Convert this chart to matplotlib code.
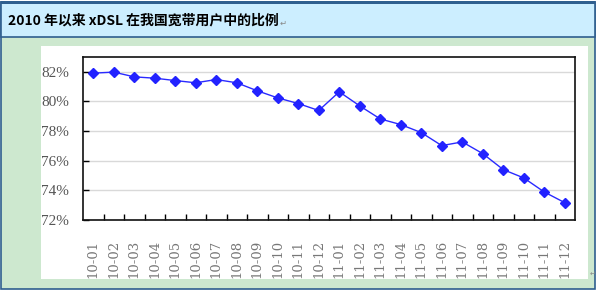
import matplotlib
matplotlib.use('Agg')
import matplotlib.pyplot as plt
from matplotlib.patches import Rectangle
from matplotlib.ticker import FuncFormatter, FixedLocator

plt.rcParams['font.family'] = ['Noto Sans CJK SC', 'DejaVu Sans']

# month labels and xDSL share (%)
months = ['10-01', '10-02', '10-03', '10-04', '10-05', '10-06', '10-07', '10-08',
          '10-09', '10-10', '10-11', '10-12', '11-01', '11-02', '11-03', '11-04',
          '11-05', '11-06', '11-07', '11-08', '11-09', '11-10', '11-11', '11-12']
xdsl_share = [81.91, 81.98, 81.66, 81.57, 81.41, 81.26, 81.48, 81.26,
              80.72, 80.24, 79.86, 79.39, 80.65, 79.70, 78.82, 78.44,
              77.90, 77.02, 77.27, 76.48, 75.40, 74.84, 73.89, 73.17]
y_ticks = [72, 74, 76, 78, 80, 82]

W, H = 596, 290
fig = plt.figure(figsize=(W / 100, H / 100), dpi=100)


def px_rect(x0, y0, x1, y1, **kw):
    # rectangle in pixel coords, y measured from the top
    fig.patches.append(Rectangle((x0 / W, 1 - y1 / H), (x1 - x0) / W, (y1 - y0) / H,
                                 transform=fig.transFigure, figure=fig, zorder=-5, **kw))


# page background: header band, green body, white chart panel
px_rect(0, 0, W, H, facecolor='white', edgecolor='none')
px_rect(1, 2, 595, 289, facecolor='#cde8cf', edgecolor='#2f5f8f', linewidth=1.2)
px_rect(1, 2, 595, 37, facecolor='#cceeff', edgecolor='#2f5f8f', linewidth=1.2)
px_rect(1, 1, 595, 4, facecolor='#2f5f8f', edgecolor='none')
px_rect(41, 46, 588, 279, facecolor='white', edgecolor='none')

fig.text(8 / W, 1 - 21 / H, '2010 年以来 xDSL 在我国宽带用户中的比例',
         fontsize=10, fontweight='bold', color='black', va='center', ha='left')
fig.text(280 / W, 1 - 23 / H, '↵', fontsize=6, color='#888888', va='center', ha='left')
fig.text(590 / W, 1 - 274 / H, '↵', fontsize=5, color='#888888', va='center', ha='left')

ax = fig.add_axes([83 / W, 1 - 220 / H, 492 / W, 163 / H])
ax.set_zorder(5)
x = list(range(len(months)))
ax.plot(x, xdsl_share, color='#2a2aff', linewidth=1, marker='D', markersize=5,
        markerfacecolor='#2222ff', markeredgecolor='#2222ff', zorder=3)

ax.set_xlim(-0.5, len(months) - 0.5)
ax.set_ylim(72, 83)
ax.set_yticks(y_ticks)
ax.yaxis.set_major_formatter(FuncFormatter(lambda v, p: f'{v:.0f}%'))
ax.grid(axis='y', color='#d9d9d9', linewidth=1)
ax.set_axisbelow(True)

# category labels centred, tick marks on the boundaries
ax.set_xticks(x)
ax.set_xticklabels(months, rotation=90, fontfamily='DejaVu Serif', fontsize=9.5,
                   color='#777777')
ax.tick_params(axis='x', which='major', length=0, pad=14)
ax.xaxis.set_minor_locator(FixedLocator([i + 0.5 for i in x[:-1]]))
ax.tick_params(axis='x', which='minor', direction='in', length=4, width=1, color='black')
ax.tick_params(axis='y', direction='in', length=4, width=1, color='black', pad=10)
for lab in ax.get_yticklabels():
    lab.set_fontfamily('Liberation Serif')
    lab.set_fontsize(11)
    lab.set_color('#555555')

for s in ax.spines.values():
    s.set_color('#111111')
    s.set_linewidth(1.2)

plt.savefig('out.png', dpi=100)
